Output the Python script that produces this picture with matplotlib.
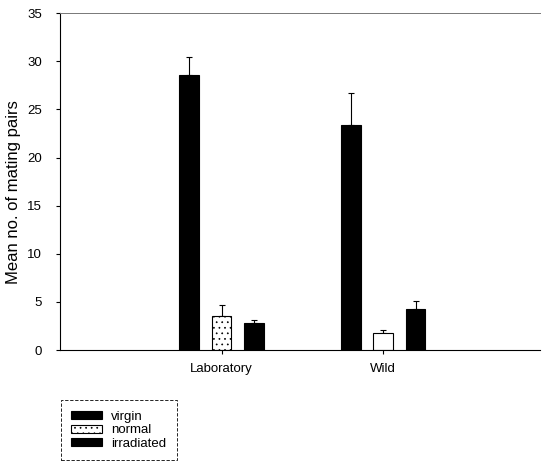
import numpy as np
from matplotlib import pyplot as plt

groups = ["Laboratory", "Wild"]
treatments = ["virgin", "normal", "irradiated"]
virgin = [28.6, 23.4]
virgin_err = [1.8, 3.3]
normal = [3.5, 1.8]
normal_err = [1.2, 0.3]
irradiated = [2.8, 4.3]
irradiated_err = [0.3, 0.8]

plt.rcParams["font.family"] = "Liberation Sans"
plt.rcParams["hatch.linewidth"] = 0.5

fig = plt.figure(figsize=(5.43, 4.68), dpi=100)
ax = fig.add_axes([0.1105, 0.252, 0.884, 0.72])

x = np.arange(len(groups))
width = 0.122
step = 0.2

series = [
    (virgin, virgin_err, "black"),
    (normal, normal_err, "white"),
    (irradiated, irradiated_err, "black"),
]
bars = []
for i, (vals, err, fc) in enumerate(series):
    pos = x + (i - 1) * step
    b = ax.bar(pos, vals, width, color=fc, edgecolor="black", linewidth=0.8,
               label=treatments[i], zorder=2)
    ax.errorbar(pos, vals, yerr=[np.zeros(len(err)), err], fmt="none",
                ecolor="black", elinewidth=0.8, capsize=2.5, capthick=0.8,
                zorder=1)
    bars.append(b)

# stippled fill on the laboratory "normal" bar
bars[1][0].set_hatch("...")

ax.set_xlim(-1.0, 1.97)
ax.set_ylim(0, 35)
ax.set_yticks(range(0, 36, 5))
ax.set_xticks(x)
ax.set_xticklabels(groups, fontsize=9.5)
ax.tick_params(axis="y", labelsize=9.5, length=3, width=0.8, pad=10,
               direction="out")
ax.tick_params(axis="x", length=3, width=0.8, pad=6, direction="out")
ax.set_ylabel("Mean no. of mating pairs", fontsize=12)
ax.yaxis.set_label_coords(-0.082, 0.47)

ax.spines["right"].set_visible(False)
ax.spines["top"].set_color("#777777")
ax.spines["top"].set_linewidth(0.7)
ax.spines["left"].set_linewidth(0.8)
ax.spines["bottom"].set_linewidth(0.8)

leg = fig.legend(handles=bars, labels=treatments, loc="upper left",
                 bbox_to_anchor=(0.0998, 0.159), fontsize=9.5,
                 handlelength=2.3, handleheight=0.55, handletextpad=0.7,
                 labelspacing=0.12, borderpad=0.8, fancybox=False,
                 framealpha=1)
leg.get_frame().set_edgecolor("black")
leg.get_frame().set_linewidth(0.6)
leg.get_frame().set_linestyle((0, (4, 2)))

fig.savefig("out.png", dpi=100)
